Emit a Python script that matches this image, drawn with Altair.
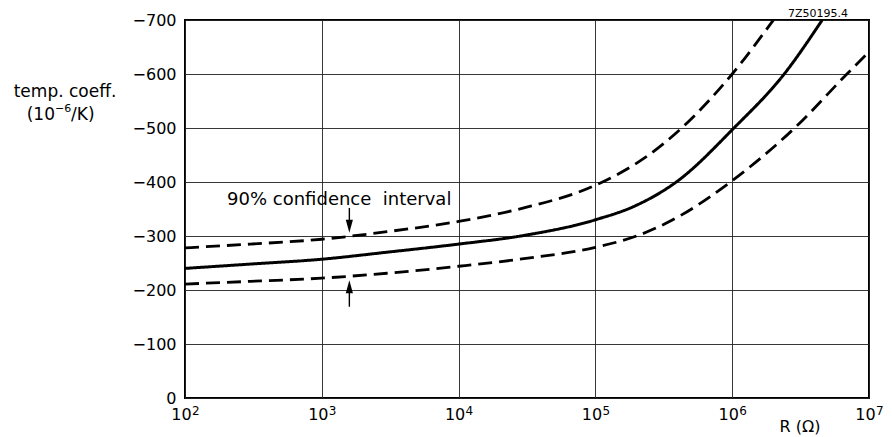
import altair as alt
import pandas as pd

# --- data -------------------------------------------------------------------
R_upper = [1e2, 3e2, 1e3, 3e3, 1e4, 3e4, 1e5, 2.3e5, 4.27e5, 1e6, 2e6]
tc_upper = [-278, -285, -294, -308, -327, -352, -394, -445, -500, -600, -700]

R_mid = [1e2, 3e2, 1e3, 3e3, 1e4, 3e4, 1e5, 2e5, 3.9e5, 1.03e6, 2.4e6, 4.55e6]
tc_mid = [-240, -248, -257, -270, -285, -301, -330, -357, -400, -500, -600, -700]

R_lower = [1e2, 3e2, 1e3, 3e3, 1e4, 3e4, 1e5, 2e5, 4e5, 9.7e5, 2.86e6, 6.9e6, 1e7]
tc_lower = [-211, -216, -222, -231, -244, -258, -279, -300, -335, -400, -500, -600, -641]

x_ticks = [1e2, 1e3, 1e4, 1e5, 1e6, 1e7]
x_tick_base = "10"
x_tick_exps = ["2", "3", "4", "5", "6", "7"]
y_ticks = [-700, -600, -500, -400, -300, -200, -100, 0]

annot_text = "90%\u00a0confidence\u00a0\u00a0interval"
annot_R = 203
annot_tc = -367
arrow_R = 1590
arrow_top = [-352, -318]     # shaft start, head centre (pointing down)
arrow_bot = [-169, -206]     # shaft start, head centre (pointing up)

FONT = "DejaVu Sans"

xscale = alt.Scale(type="log", domain=[1e2, 1e7], nice=False)
yscale = alt.Scale(domain=[-700, 0], reverse=True, nice=False)

xaxis = alt.Axis(values=x_ticks, labelExpr="'%s'" % x_tick_base, title=None, grid=True,
                 ticks=False, domain=False, labelPadding=8, labelFontSize=16,
                 labelOffset=-4, labelFont=FONT, labelColor="black", labelFlush=False)
yaxis = alt.Axis(values=y_ticks, title=None, grid=True, ticks=False, domain=False,
                 labelPadding=9, labelFontSize=16, labelFont=FONT, labelColor="black")


def X(field):
    return alt.X(field, type="quantitative", scale=xscale, axis=xaxis)


def Y(field):
    return alt.Y(field, type="quantitative", scale=yscale, axis=yaxis)


def line_layer(R, tc, dashed):
    df = pd.DataFrame({"R": R, "tc": tc})
    m = alt.Chart(df).mark_line(color="black", strokeWidth=3 if not dashed else 2.8,
                                interpolate="monotone", clip=True,
                                strokeDash=[14, 7] if dashed else [1, 0])
    return m.encode(x=X("R"), y=Y("tc"))


upper = line_layer(R_upper, tc_upper, True)
mid = line_layer(R_mid, tc_mid, False)
lower = line_layer(R_lower, tc_lower, True)

# exponents of the x tick labels
exp_df = pd.DataFrame({"R": x_ticks, "e": x_tick_exps})
exps = alt.Chart(exp_df).mark_text(align="left", baseline="middle", fontSize=12,
                                   font=FONT, color="black", dx=7).encode(
    x=X("R"), y=alt.value(391), text="e:N")

# annotation
ann_df = pd.DataFrame({"R": [annot_R], "tc": [annot_tc], "t": [annot_text]})
ann = alt.Chart(ann_df).mark_text(align="left", baseline="middle", fontSize=18,
                                  font=FONT, color="black").encode(
    x=X("R"), y=Y("tc"), text="t:N")

shaft_df = pd.DataFrame({"R": [arrow_R, arrow_R], "tc": [arrow_top[0], arrow_bot[0]],
                         "tc2": [arrow_top[1], arrow_bot[1]]})
shafts = alt.Chart(shaft_df).mark_rule(color="black", strokeWidth=1.4).encode(
    x=X("R"), y=Y("tc"), y2="tc2:Q")

head_down = alt.Chart(pd.DataFrame({"R": [arrow_R], "tc": [arrow_top[1]]})).mark_point(
    shape="M-0.55,-1L0.55,-1L0,1Z", size=169, filled=True, color="black", opacity=1).encode(
    x=X("R"), y=Y("tc"))
head_up = alt.Chart(pd.DataFrame({"R": [arrow_R], "tc": [arrow_bot[1]]})).mark_point(
    shape="M-0.55,1L0.55,1L0,-1Z", size=169, filled=True, color="black", opacity=1).encode(
    x=X("R"), y=Y("tc"))


def free_text(t, x, y, size=17, align="center"):
    return alt.Chart(pd.DataFrame({"t": [t]})).mark_text(
        fontSize=size, font=FONT, color="black", align=align, baseline="middle").encode(
        x=alt.value(x), y=alt.value(y), text="t:N")


ytitle1 = free_text("temp. coeff.", -120, 72)
ytitle2a = free_text("(10", -130, 94.5, align="right")
ytitle2b = free_text("−6", -130, 88.5, size=11, align="left")
ytitle2c = free_text("/K)", -114, 94.5, align="left")
xtitle = free_text("R (Ω)", 615, 407, size=16)
code = free_text("7Z50195.4", 633, -6, size=11)

chart = alt.layer(upper, mid, lower, exps, ann, shafts, head_down, head_up,
                  ytitle1, ytitle2a, ytitle2b, ytitle2c, xtitle, code).properties(
    width=684, height=378,
    autosize=alt.AutoSizeParams(type="none"),
    padding={"left": 177, "top": 12, "right": 15, "bottom": 38},
    background="white",
).configure_view(stroke="black", strokeWidth=2).configure_axis(
    gridColor="#222", gridWidth=1, gridOpacity=0.9)

chart.save("out.html", embed_options={"renderer": "svg", "actions": False})
